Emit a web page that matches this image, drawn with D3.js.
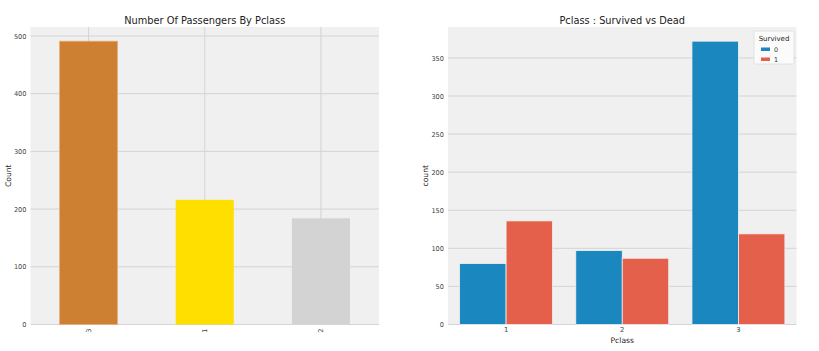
<!DOCTYPE html>
<html>
<head>
<meta charset="utf-8">
<script src="https://cdn.jsdelivr.net/npm/d3@7"></script>
<style>
  body { margin: 0; background: #fff; }
  text { font-family: "DejaVu Sans", sans-serif; }
</style>
</head>
<body>
<div id="container"></div>
<script>
let w = 819;
let h = 351;

// left: value counts of Pclass (pandas order)
let countClasses = ["3", "1", "2"];
let countValues = [491, 216, 184];
let countColors = ["#CD7F32", "#FFDF00", "#D3D3D3"];
let countTicks = [0, 100, 200, 300, 400, 500];

// right: countplot Pclass by Survived
let pclassNames = ["1", "2", "3"];
let survivedKeys = ["0", "1"];
let dead = [80, 97, 372];
let alive = [136, 87, 119];
let survColors = ["#1a87bf", "#e5604a"];
let survTicks = [0, 50, 100, 150, 200, 250, 300, 350];

let viz = d3.select("#container").append("svg")
    .attr("width", w)
    .attr("height", h)
    .style("background-color", "white");

let gridColor = "#d4d4d4";
let tickColor = "#444";

function styleTicks(sel, size) {
  sel.attr("font-size", size)
     .attr("fill", tickColor)
     .attr("font-family", "DejaVu Sans");
}

// ---------- LEFT ----------
let L = {x0: 30.5, x1: 379, y0: 27, y1: 324.5};

let xLeft = d3.scaleBand()
    .domain(countClasses)
    .range([L.x0, L.x1])
    .paddingInner(0.5)
    .paddingOuter(0.25);

let yLeft = d3.scaleLinear()
    .domain([0, d3.max(countValues) * 1.05])
    .range([L.y1, L.y0]);

let left = viz.append("g");

left.append("rect")
    .attr("x", L.x0).attr("y", L.y0)
    .attr("width", L.x1 - L.x0).attr("height", L.y1 - L.y0)
    .attr("fill", "#f0f0f0");

left.selectAll(".hgrid").data(countTicks).enter()
  .append("line")
    .attr("x1", L.x0).attr("x2", L.x1)
    .attr("y1", d => yLeft(d)).attr("y2", d => yLeft(d))
    .attr("stroke", gridColor).attr("stroke-width", 1);

left.selectAll(".vgrid").data(countClasses).enter()
  .append("line")
    .attr("x1", d => xLeft(d) + xLeft.bandwidth() / 2)
    .attr("x2", d => xLeft(d) + xLeft.bandwidth() / 2)
    .attr("y1", L.y0).attr("y2", L.y1)
    .attr("stroke", gridColor).attr("stroke-width", 1);

left.selectAll(".bar").data(countClasses).enter()
  .append("rect")
    .attr("x", d => xLeft(d))
    .attr("y", (d, i) => yLeft(countValues[i]))
    .attr("width", xLeft.bandwidth())
    .attr("height", (d, i) => yLeft(0) - yLeft(countValues[i]))
    .attr("fill", (d, i) => countColors[i])
    .attr("stroke", (d, i) => i == 0 ? "#e9b07f" : "none")
    .attr("stroke-width", 0.8);

let yAxisL = d3.axisLeft(yLeft).tickValues(countTicks).tickSize(0).tickPadding(4);
left.append("g")
    .attr("transform", "translate(" + L.x0 + ",0)")
    .call(yAxisL)
    .call(g => g.select(".domain").remove())
    .selectAll("text")
      .call(styleTicks, 6.6);

let xAxisL = d3.axisBottom(xLeft).tickSize(0).tickPadding(0);
left.append("g")
    .attr("transform", "translate(0," + L.y1 + ")")
    .call(xAxisL)
    .call(g => g.select(".domain").remove())
    .selectAll("text")
      .call(styleTicks, 6.6)
      .attr("transform", "rotate(-90)")
      .attr("text-anchor", "end")
      .attr("dy", "0.35em")
      .attr("x", -4)
      .attr("y", 0);

left.append("text")
    .text("Number Of Passengers By Pclass")
    .attr("x", (L.x0 + L.x1) / 2)
    .attr("y", 24)
    .attr("text-anchor", "middle")
    .attr("font-size", 9.8)
    .attr("fill", "#222");

left.append("text")
    .text("Count")
    .attr("transform", "translate(11," + ((L.y0 + L.y1) / 2) + ") rotate(-90)")
    .attr("text-anchor", "middle")
    .attr("font-size", 7.6)
    .attr("fill", "#222");

// ---------- RIGHT ----------
let R = {x0: 448, x1: 796.5, y0: 27, y1: 324.5};

let xRight = d3.scaleBand()
    .domain(pclassNames)
    .range([R.x0, R.x1])
    .paddingInner(0.2)
    .paddingOuter(0.1);

let xSub = d3.scaleBand()
    .domain(survivedKeys)
    .range([0, xRight.bandwidth()]);

let yRight = d3.scaleLinear()
    .domain([0, d3.max(dead.concat(alive)) * 1.05])
    .range([R.y1, R.y0]);

let right = viz.append("g");

right.append("rect")
    .attr("x", R.x0).attr("y", R.y0)
    .attr("width", R.x1 - R.x0).attr("height", R.y1 - R.y0)
    .attr("fill", "#f0f0f0");

right.selectAll(".hgrid").data(survTicks).enter()
  .append("line")
    .attr("x1", R.x0).attr("x2", R.x1)
    .attr("y1", d => yRight(d)).attr("y2", d => yRight(d))
    .attr("stroke", gridColor).attr("stroke-width", 1);

let series = [dead, alive];
series.forEach(function(vals, s) {
  right.selectAll(".bar" + s).data(pclassNames).enter()
    .append("rect")
      .attr("x", d => xRight(d) + xSub(survivedKeys[s]))
      .attr("y", (d, i) => yRight(vals[i]))
      .attr("width", xSub.bandwidth())
      .attr("height", (d, i) => yRight(0) - yRight(vals[i]))
      .attr("fill", survColors[s])
      .attr("stroke", "#f0f0f0")
      .attr("stroke-width", 0.8);
});

let yAxisR = d3.axisLeft(yRight).tickValues(survTicks).tickSize(0).tickPadding(4);
right.append("g")
    .attr("transform", "translate(" + R.x0 + ",0)")
    .call(yAxisR)
    .call(g => g.select(".domain").remove())
    .selectAll("text")
      .call(styleTicks, 6.6);

let xAxisR = d3.axisBottom(xRight).tickSize(0).tickPadding(3);
right.append("g")
    .attr("transform", "translate(0," + R.y1 + ")")
    .call(xAxisR)
    .call(g => g.select(".domain").remove())
    .selectAll("text")
      .call(styleTicks, 6.8);

right.append("text")
    .text("Pclass : Survived vs Dead")
    .attr("x", (R.x0 + R.x1) / 2)
    .attr("y", 24)
    .attr("text-anchor", "middle")
    .attr("font-size", 9.8)
    .attr("fill", "#222");

right.append("text")
    .text("count")
    .attr("transform", "translate(428," + ((R.y0 + R.y1) / 2) + ") rotate(-90)")
    .attr("text-anchor", "middle")
    .attr("font-size", 7.6)
    .attr("fill", "#222");

right.append("text")
    .text("Pclass")
    .attr("x", (R.x0 + R.x1) / 2)
    .attr("y", 343)
    .attr("text-anchor", "middle")
    .attr("font-size", 7.6)
    .attr("fill", "#222");

// legend
let legend = right.append("g").attr("transform", "translate(754,31)");
legend.append("rect")
    .attr("width", 40).attr("height", 33)
    .attr("rx", 1.5)
    .attr("fill", "#fbfbfb")
    .attr("stroke", "#dddddd")
    .attr("stroke-width", 0.8);
legend.append("text")
    .text("Survived")
    .attr("x", 20).attr("y", 10)
    .attr("text-anchor", "middle")
    .attr("font-size", 7)
    .attr("fill", "#222");
legend.selectAll(".key").data(survivedKeys).enter()
  .append("rect")
    .attr("x", 7)
    .attr("y", (d, i) => 16.5 + i * 10)
    .attr("width", 9).attr("height", 3.5)
    .attr("fill", (d, i) => survColors[i]);
legend.selectAll(".keytext").data(survivedKeys).enter()
  .append("text")
    .text(d => d)
    .attr("x", 20)
    .attr("y", (d, i) => 20.5 + i * 10)
    .attr("font-size", 6.4)
    .attr("fill", "#333");
</script>
</body>
</html>
